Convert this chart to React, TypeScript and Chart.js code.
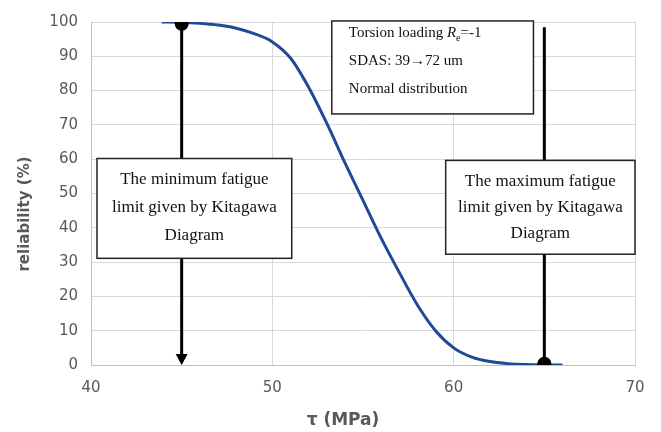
import { useEffect, useRef } from "react";
import { Chart, registerables } from "chart.js";

Chart.register(...registerables);

// Curve: reliability (%) versus shear stress amplitude tau (MPa)
const tauValues = [43.9, 45, 46, 47, 48, 49, 50, 51, 52, 53, 54, 55, 56, 57, 58, 59, 60, 61, 62, 63, 64, 65, 66];
const reliabilityValues = [100, 99.9, 99.6, 99.1, 98.2, 96.6, 94.2, 89.5, 81, 70.5, 59, 48, 37, 27, 17.5, 10, 5, 2.3, 1.0, 0.4, 0.15, 0.05, 0];

// Fatigue limit markers (tau, reliability)
const minLimitTau = 45;
const minLimitTop = 99.5;
const maxLimitTau = 65;
const maxLimitTop = 98.5;
const maxLimitDot = 0.4;

// Axis ticks
const xTicks = [40, 50, 60, 70];
const yTicks = [0, 10, 20, 30, 40, 50, 60, 70, 80, 90, 100];

// Texts
const xTitle = "τ (MPa)";
const yTitle = "reliability (%)";
const minBoxLines = ["The minimum fatigue", "limit given by Kitagawa", "Diagram"];
const maxBoxLines = ["The maximum fatigue", "limit given by Kitagawa", "Diagram"];
const infoLine1 = ["Torsion loading ", "R", "e", "=-1"];
const infoLine2 = "SDAS: 39→72 um";
const infoLine3 = "Normal distribution";

const SERIF = "'Liberation Serif', 'Times New Roman', serif";
const SANS = "'DejaVu Sans', sans-serif";

const overlayPlugin = {
  id: "overlay",
  afterDatasetsDraw(chart: any) {
    const ctx = chart.ctx as CanvasRenderingContext2D;
    const xs = chart.scales.x;
    const ys = chart.scales.y;
    const px = (v: number) => xs.getPixelForValue(v);
    const py = (v: number) => ys.getPixelForValue(v);

    ctx.save();
    // arrowhead on minimum limit line
    const ax = px(minLimitTau);
    const ay = py(0);
    ctx.fillStyle = "#000";
    ctx.beginPath();
    ctx.moveTo(ax, ay);
    ctx.lineTo(ax - 6, ay - 11);
    ctx.lineTo(ax + 6, ay - 11);
    ctx.closePath();
    ctx.fill();

    const box = (x0: number, x1: number, y0: number, y1: number) => {
      const l = px(x0), r = px(x1), t = py(y0), b = py(y1);
      ctx.fillStyle = "#fff";
      ctx.fillRect(l, t, r - l, b - t);
      ctx.strokeStyle = "#222";
      ctx.lineWidth = 1.5;
      ctx.strokeRect(l, t, r - l, b - t);
      return { l, r, t, b };
    };

    // minimum box
    const b1 = box(40.33, 51.07, 60.2, 31.1);
    ctx.fillStyle = "#111";
    ctx.font = `17px ${SERIF}`;
    ctx.textAlign = "center";
    ctx.textBaseline = "middle";
    const c1 = (b1.l + b1.r) / 2;
    minBoxLines.forEach((s, i) => ctx.fillText(s, c1, b1.t + 21 + i * 28));

    // maximum box
    const b2 = box(59.56, 70, 59.65, 32.3);
    ctx.fillStyle = "#111";
    const c2 = (b2.l + b2.r) / 2;
    maxBoxLines.forEach((s, i) => ctx.fillText(s, c2, b2.t + 21 + i * 26));

    // info box
    const b3 = box(53.28, 64.4, 100.3, 73.2);
    ctx.fillStyle = "#111";
    ctx.textAlign = "left";
    ctx.textBaseline = "middle";
    let x = b3.l + 17;
    const y1 = b3.t + 12;
    ctx.font = `15px ${SERIF}`;
    ctx.fillText(infoLine1[0], x, y1);
    x += ctx.measureText(infoLine1[0]).width;
    ctx.font = `italic 15px ${SERIF}`;
    ctx.fillText(infoLine1[1], x, y1);
    x += ctx.measureText(infoLine1[1]).width;
    ctx.font = `10px ${SERIF}`;
    ctx.fillText(infoLine1[2], x, y1 + 5);
    x += ctx.measureText(infoLine1[2]).width;
    ctx.font = `15px ${SERIF}`;
    ctx.fillText(infoLine1[3], x, y1);
    ctx.fillText(infoLine2, b3.l + 17, b3.t + 40);
    ctx.fillText(infoLine3, b3.l + 17, b3.t + 68);
    ctx.restore();
  },
  afterDraw(chart: any) {
    const ctx = chart.ctx as CanvasRenderingContext2D;
    ctx.save();
    ctx.fillStyle = "#595959";
    ctx.textAlign = "center";
    ctx.textBaseline = "middle";
    ctx.font = `bold 17px ${SANS}`;
    ctx.fillText(xTitle, 343, 421);
    ctx.translate(25, 214);
    ctx.rotate(-Math.PI / 2);
    ctx.font = `bold 15px ${SANS}`;
    ctx.fillText(yTitle, 0, 0);
    ctx.restore();
  },
};

export default function App() {
  const ref = useRef<HTMLCanvasElement | null>(null);

  useEffect(() => {
    if (!ref.current) return;
    const curve = tauValues.map((t, i) => ({ x: t, y: reliabilityValues[i] }));
    const chart = new Chart(ref.current, {
      type: "line",
      data: {
        datasets: [
          {
            data: [
              { x: minLimitTau, y: minLimitTop },
              { x: maxLimitTau, y: maxLimitDot },
            ],
            showLine: false,
            pointRadius: 7,
            pointBackgroundColor: "#000",
            pointBorderColor: "#000",
            pointBorderWidth: 0,
          },
          {
            data: [
              { x: minLimitTau, y: minLimitTop },
              { x: minLimitTau, y: 2 },
            ],
            borderColor: "#000",
            borderWidth: 3,
            pointRadius: 0,
          },
          {
            data: [
              { x: maxLimitTau, y: maxLimitTop },
              { x: maxLimitTau, y: maxLimitDot },
            ],
            borderColor: "#000",
            borderWidth: 3,
            pointRadius: 0,
          },
          {
            data: curve,
            borderColor: "#1d4b98",
            borderWidth: 3,
            pointRadius: 0,
            cubicInterpolationMode: "monotone",
          },
        ],
      },
      options: {
        responsive: false,
        animation: false,
        layout: { padding: { top: 18, right: 26, left: 0, bottom: 0 } },
        plugins: { legend: { display: false }, tooltip: { enabled: false } },
        scales: {
          x: {
            type: "linear",
            min: 40,
            max: 70,
            afterBuildTicks: (s: any) => {
              s.ticks = xTicks.map((v) => ({ value: v }));
            },
            afterFit: (s: any) => {
              s.height = 67;
            },
            ticks: {
              font: { family: SANS, size: 15 },
              color: "#595959",
              padding: 14,
              maxRotation: 0,
            },
            grid: { color: "#d9d9d9", drawTicks: false },
            border: { color: "#bfbfbf" },
          },
          y: {
            min: 0,
            max: 100,
            afterBuildTicks: (s: any) => {
              s.ticks = yTicks.map((v) => ({ value: v }));
            },
            afterFit: (s: any) => {
              s.width = 91;
            },
            ticks: {
              font: { family: SANS, size: 15 },
              color: "#595959",
              padding: 13,
            },
            grid: { color: "#d9d9d9", drawTicks: false },
            border: { color: "#bfbfbf" },
          },
        },
      },
      plugins: [overlayPlugin],
    } as any);
    return () => chart.destroy();
  }, []);

  return (
    <div style={{ position: "fixed", left: 0, top: 0, width: 661, height: 432, background: "#fff" }}>
      <canvas ref={ref} width={661} height={432} style={{ display: "block" }} />
    </div>
  );
}
